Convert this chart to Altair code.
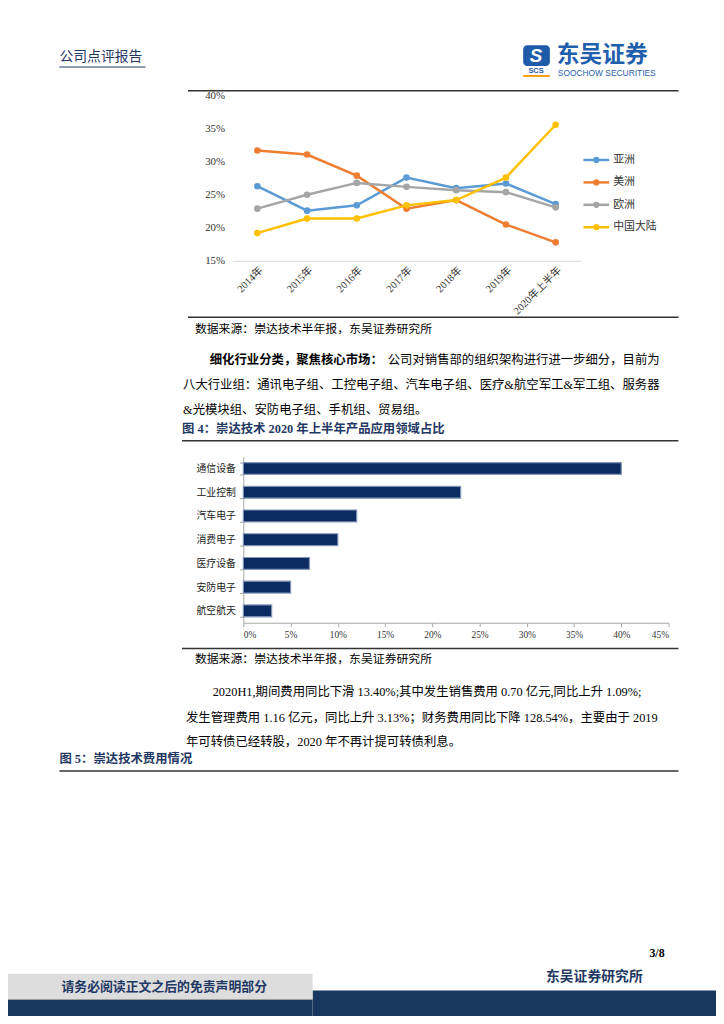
import altair as alt
import pandas as pd

# ---------------- data ----------------
years = ["2014年", "2015年", "2016年", "2017年", "2018年", "2019年", "2020年上半年"]
series_names = ["亚洲", "美洲", "欧洲", "中国大陆"]
asia = [26.3, 22.6, 23.4, 27.6, 26.0, 26.7, 23.6]
america = [31.7, 31.1, 27.9, 22.9, 24.2, 20.5, 17.8]
europe = [22.9, 25.0, 26.8, 26.2, 25.7, 25.4, 23.1]
china = [19.2, 21.4, 21.4, 23.4, 24.2, 27.6, 35.6]
line_ticks = [15, 20, 25, 30, 35, 40]

categories = ["通信设备", "工业控制", "汽车电子", "消费电子", "医疗设备", "安防电子", "航空航天"]
shares = [40, 23, 12, 10, 7, 5, 3]
bar_ticks = [0, 5, 10, 15, 20, 25, 30, 35, 40, 45]

series_colors = ["#5B9BD5", "#ED7D31", "#A5A5A5", "#FFC000"]

# ---------------- page geometry ----------------
W, H = 716, 1008
OX, OY = 8, 8


def px(x):
    return x - OX


def py(y):
    return y - OY


CJK = "'Noto Sans CJK SC'"
MIX = "'Liberation Serif', 'Noto Sans CJK SC'"
SERIF = "'Liberation Serif'"
NAVY = "#1F3864"
one = pd.DataFrame({"k": [0]})


def text(x, y, s, size=12.5, weight="normal", color="#000000", align="left",
         font=MIX, baseline="middle", **kw):
    return alt.Chart(one).mark_text(
        text=s, fontSize=size, fontWeight=weight, color=color, align=align,
        baseline=baseline, font=font, **kw
    ).encode(x=alt.value(px(x)), y=alt.value(py(y)))


def hrule(x1, x2, y, color="#333333", width=1.5):
    return alt.Chart(one).mark_rule(color=color, strokeWidth=width).encode(
        x=alt.value(px(x1)), x2=alt.value(px(x2)), y=alt.value(py(y)))


def rect(x1, x2, y1, y2, color, **kw):
    return alt.Chart(one).mark_rect(color=color, **kw).encode(
        x=alt.value(px(x1)), x2=alt.value(px(x2)),
        y=alt.value(py(y1)), y2=alt.value(py(y2)))


# ---------------- line chart (figure 3) ----------------
rows = []
for name, vals in zip(series_names, [asia, america, europe, china]):
    for yr, v in zip(years, vals):
        rows.append({"year": yr, "series": name, "value": v})
line_df = pd.DataFrame(rows)

color_enc = alt.Color("series:N", scale=alt.Scale(domain=series_names, range=series_colors), legend=None)

line_layer = alt.Chart(line_df).mark_line(
    strokeWidth=2.5, point=alt.OverlayMarkDef(filled=True, size=45)
).encode(
    x=alt.X("year:N", sort=years,
            scale=alt.Scale(type="point", domain=years, range=[px(235), px(587)], padding=0.5),
            axis=alt.Axis(orient="bottom", offset=py(258) - H, title=None, labelAngle=-45,
                          domainColor="#D9D9D9", domainWidth=1, ticks=False, grid=False,
                          labelFont=MIX, labelFontSize=10.5, labelColor="#333333",
                          labelPadding=4)),
    y=alt.Y("value:Q",
            scale=alt.Scale(domain=[15, 40], range=[py(258), py(91)], zero=False, nice=False),
            axis=alt.Axis(orient="left", offset=-px(235), values=line_ticks,
                          labelExpr="datum.value + '%'", domain=False, ticks=False, grid=False,
                          title=None, labelFont=SERIF, labelFontSize=11, labelColor="#333333",
                          labelPadding=8)),
    color=color_enc,
)

leg_df = pd.DataFrame({"series": series_names})
leg_y = alt.Y("series:N", sort=series_names,
              scale=alt.Scale(type="point", domain=series_names, range=[py(156), py(224)], padding=0),
              axis=None)
leg_color = alt.Color("series:N", scale=alt.Scale(domain=series_names, range=series_colors), legend=None)
leg_rule = alt.Chart(leg_df).mark_rule(strokeWidth=2.5).encode(
    x=alt.value(px(590)), x2=alt.value(px(616)), y=leg_y, color=leg_color)
leg_pt = alt.Chart(leg_df).mark_point(filled=True, size=40, opacity=1).encode(
    x=alt.value(px(603)), y=leg_y, color=leg_color)
leg_txt = alt.Chart(leg_df).mark_text(align="left", baseline="middle", font=CJK, fontSize=11,
                                      color="#333333").encode(
    x=alt.value(px(620)), y=leg_y, text="series:N")
legend_layer = alt.layer(leg_rule, leg_pt, leg_txt)

# ---------------- bar chart (figure 4) ----------------
bar_df = pd.DataFrame({"cat": categories, "share": shares})
bar_layer = alt.Chart(bar_df).mark_bar(fill="#0D2B63", stroke="#8596B8", strokeWidth=1.2).encode(
    x=alt.X("share:Q",
            scale=alt.Scale(domain=[0, 45], range=[px(246), px(676)], nice=False, zero=True),
            axis=alt.Axis(orient="bottom", offset=py(624) - H, values=bar_ticks,
                          labelExpr="datum.value + '%'", title=None, grid=False,
                          domainColor="#A6A6A6", tickColor="#A6A6A6", tickSize=4,
                          labelFont=SERIF, labelFontSize=9.5, labelColor="#333333",
                          labelPadding=3)),
    y=alt.Y("cat:N", sort=categories,
            scale=alt.Scale(type="band", domain=categories, range=[py(456), py(624)],
                            paddingInner=0.5, paddingOuter=0.25),
            axis=alt.Axis(orient="left", offset=-px(246), title=None, grid=False,
                          domainColor="#A6A6A6", tickColor="#A6A6A6", tickSize=4,
                          tickBand="extent", labelFont=CJK, labelFontSize=10,
                          labelColor="#222222", labelPadding=4)),
)

# ---------------- page decorations ----------------
deco = [
    # header
    text(60, 52, "公司点评报告", size=14, color=NAVY, font=CJK),
    hrule(60, 147, 62, color=NAVY, width=1),
    rect(529, 556, 40, 61, "#1E5BAA", cornerRadius=4),
    text(542, 50.5, "S", size=19, weight="bold", color="#FFFFFF", align="center",
         font="'Liberation Sans'", fontStyle="italic"),
    text(542, 66, "SCS", size=7.5, weight="bold", color="#1E5BAA", align="center",
         font="'Liberation Sans'"),
    hrule(529, 556, 71, color="#F39C12", width=2),
    text(563, 50, "东吴证券", size=23, weight="bold", color="#1F5FAD", font=CJK),
    text(564, 68.5, "SOOCHOW SECURITIES", size=8.5, color="#1F5FAD", font="'Liberation Sans'"),
    # figure 3 frame
    hrule(190, 686, 86),
    hrule(190, 686, 315),
    text(197, 327, "数据来源：崇达技术半年报，东吴证券研究所", size=12, font=CJK),
    # paragraph 1
    text(212, 358, "细化行业分类，聚焦核心市场：", weight="bold", font=CJK),
    text(392, 358, "公司对销售部的组织架构进行进一步细分，目前为", font=CJK),
    text(185, 384, "八大行业组：通讯电子组、工控电子组、汽车电子组、医疗&航空军工&军工组、服务器"),
    text(185, 409, "&光模块组、安防电子组、手机组、贸易组。"),
    # figure 4 frame
    text(184, 428, "图 4：崇达技术 2020 年上半年产品应用领域占比", weight="bold", color=NAVY),
    hrule(184, 686, 440),
    hrule(184, 686, 650),
    text(197, 661, "数据来源：崇达技术半年报，东吴证券研究所", size=12, font=CJK),
    # paragraph 2
    text(215, 694, "2020H1,期间费用同比下滑 13.40%;其中发生销售费用 0.70 亿元,同比上升 1.09%;"),
    text(188, 720, "发生管理费用 1.16 亿元，同比上升 3.13%；财务费用同比下降 128.54%，主要由于 2019"),
    text(188, 745, "年可转债已经转股，2020 年不再计提可转债利息。"),
    # figure 5 title
    text(60, 762, "图 5：崇达技术费用情况", weight="bold", color=NAVY),
    hrule(60, 686, 774),
    # footer
    text(672, 958, "3/8", size=12, weight="bold", align="right", font=SERIF),
    rect(316, 724, 996, 1024, "#17375E"),
    rect(0, 316, 1005, 1024, "#17375E"),
    rect(0, 316, 979, 1005, "#DDDDDD"),
    hrule(0, 316, 1005, color="#9A9A9A", width=1),
    text(166, 992, "请务必阅读正文之后的免责声明部分", size=13, weight="bold", color=NAVY,
         align="center", font=CJK),
    text(552, 982, "东吴证券研究所", size=14, weight="bold", color=NAVY, font=CJK),
]

chart = alt.layer(
    *deco, line_layer, legend_layer, bar_layer
).resolve_scale(
    x="independent", y="independent", color="independent"
).resolve_axis(
    x="independent", y="independent"
).properties(
    width=W, height=H, autosize=alt.AutoSizeParams(type="none"), padding=0
).configure_view(stroke=None)

chart.save("out.html", embed_options={"renderer": "svg", "actions": False})
